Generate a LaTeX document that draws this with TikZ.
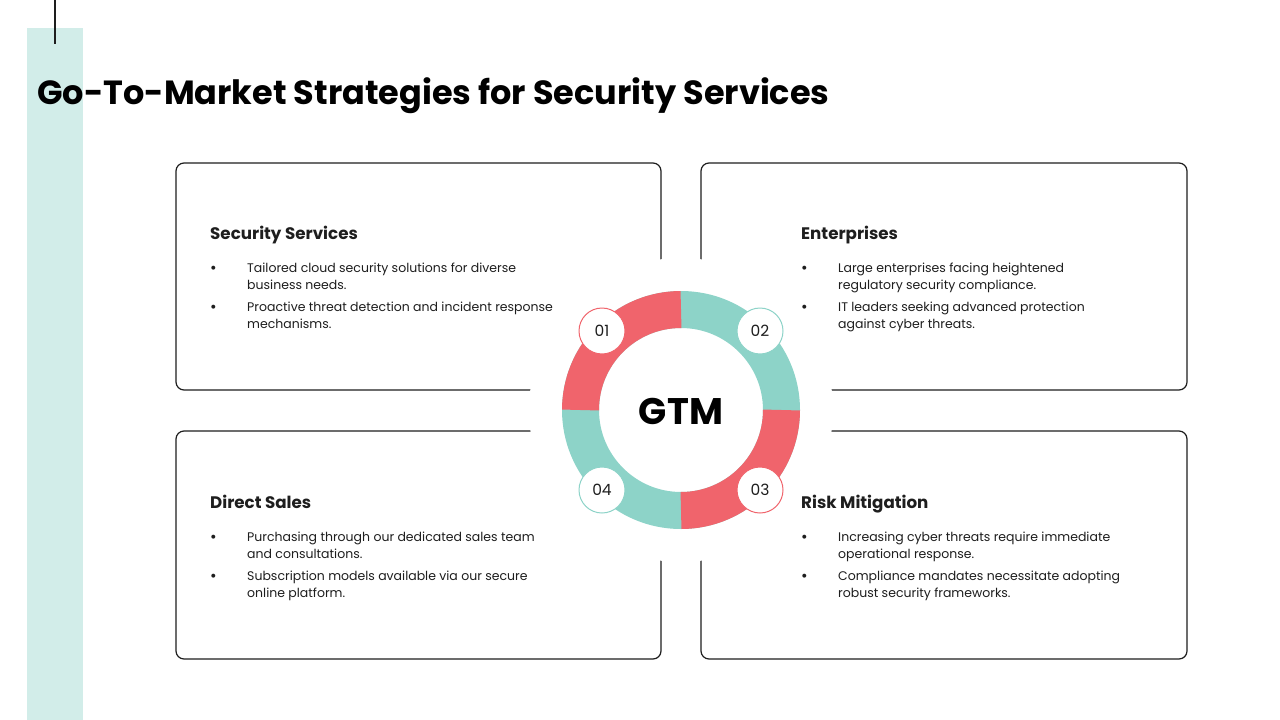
\documentclass[tikz,border=0pt]{standalone}
\usepackage{fontspec}
\setmainfont{Poppins}
\definecolor{ringred}{HTML}{F0646C}
\definecolor{ringteal}{HTML}{8DD3C8}
\definecolor{stripc}{HTML}{D2EDE9}
\definecolor{ink}{HTML}{1E1E1E}
\begin{document}
\begin{tikzpicture}[x=1pt,y=-1pt,
  card/.style={draw=ink,line width=1.2pt,rounded corners=8pt},
  head/.style={anchor=base west,inner sep=0pt,text=ink,font=\fontsize{16.7}{20}\selectfont\bfseries},
  body/.style={anchor=base west,inner sep=0pt,text=ink,font=\fontsize{12.5}{15}\selectfont},
  dot/.style={anchor=base west,inner sep=0pt,text=ink,font=\fontsize{16}{18}\selectfont},
  seg/.style={line width=37pt},
  numc/.style={circle,fill=white,minimum size=46pt,inner sep=0pt,line width=1pt,text=ink,font=\fontsize{15.5}{18}\selectfont}]
\useasboundingbox (0,0) rectangle (1280,720);
\fill[white] (0,0) rectangle (1280,720);
\fill[stripc] (27,28) rectangle (83,720);
\draw[ink,line width=1.5pt] (55,0) -- (55,44);
\node[anchor=base west,inner sep=0pt,text=black,font=\fontsize{33.5}{38}\selectfont\bfseries] (title) at (37,104) {Go-To-Market Strategies for Security Services};
% cards
\draw[card] (176,163) rectangle (661,390);
\draw[card] (701,163) rectangle (1187,390);
\draw[card] (176,431) rectangle (661,659);
\draw[card] (701,431) rectangle (1187,659);
% white disk
\fill[white] (681,410) circle (152);
% ring
\draw[seg,ringteal] (681,410) circle (100.5);
\draw[seg,ringred] (681,410) ++(180:100.5) arc[start angle=180,end angle=270,radius=100.5];
\draw[seg,ringred] (681,410) ++(0:100.5) arc[start angle=0,end angle=90,radius=100.5];
\node[inner sep=0pt,text=black,font=\fontsize{37}{40}\selectfont\bfseries] (gtm) at (681,411) {GTM};
\node[numc,draw=ringred] (n1) at (602,331) {01};
\node[numc,draw=ringteal] (n2) at (760,331) {02};
\node[numc,draw=ringred] (n3) at (760,490) {03};
\node[numc,draw=ringteal] (n4) at (602,490) {04};
% card 1
\node[head] (h1) at (210,239) {Security Services};
\node[dot] (b11) at (210,273) {•};
\node[body] (t11a) at (247,272) {Tailored cloud security solutions for diverse};
\node[body] (t11b) at (247,289) {business needs.};
\node[dot] (b12) at (210,312) {•};
\node[body] (t12a) at (247,311) {Proactive threat detection and incident response};
\node[body] (t12b) at (247,328) {mechanisms.};
% card 2
\node[head] (h2) at (801,239) {Enterprises};
\node[dot] (b21) at (801,273) {•};
\node[body] (t21a) at (838,272) {Large enterprises facing heightened};
\node[body] (t21b) at (838,289) {regulatory security compliance.};
\node[dot] (b22) at (801,312) {•};
\node[body] (t22a) at (838,311) {IT leaders seeking advanced protection};
\node[body] (t22b) at (838,328) {against cyber threats.};
% card 3
\node[head] (h3) at (210,508) {Direct Sales};
\node[dot] (b31) at (210,542) {•};
\node[body] (t31a) at (247,541) {Purchasing through our dedicated sales team};
\node[body] (t31b) at (247,558) {and consultations.};
\node[dot] (b32) at (210,581) {•};
\node[body] (t32a) at (247,580) {Subscription models available via our secure};
\node[body] (t32b) at (247,597) {online platform.};
% card 4
\node[head] (h4) at (801,508) {Risk Mitigation};
\node[dot] (b41) at (801,542) {•};
\node[body] (t41a) at (838,541) {Increasing cyber threats require immediate};
\node[body] (t41b) at (838,558) {operational response.};
\node[dot] (b42) at (801,581) {•};
\node[body] (t42a) at (838,580) {Compliance mandates necessitate adopting};
\node[body] (t42b) at (838,597) {robust security frameworks.};
\end{tikzpicture}
\end{document}
